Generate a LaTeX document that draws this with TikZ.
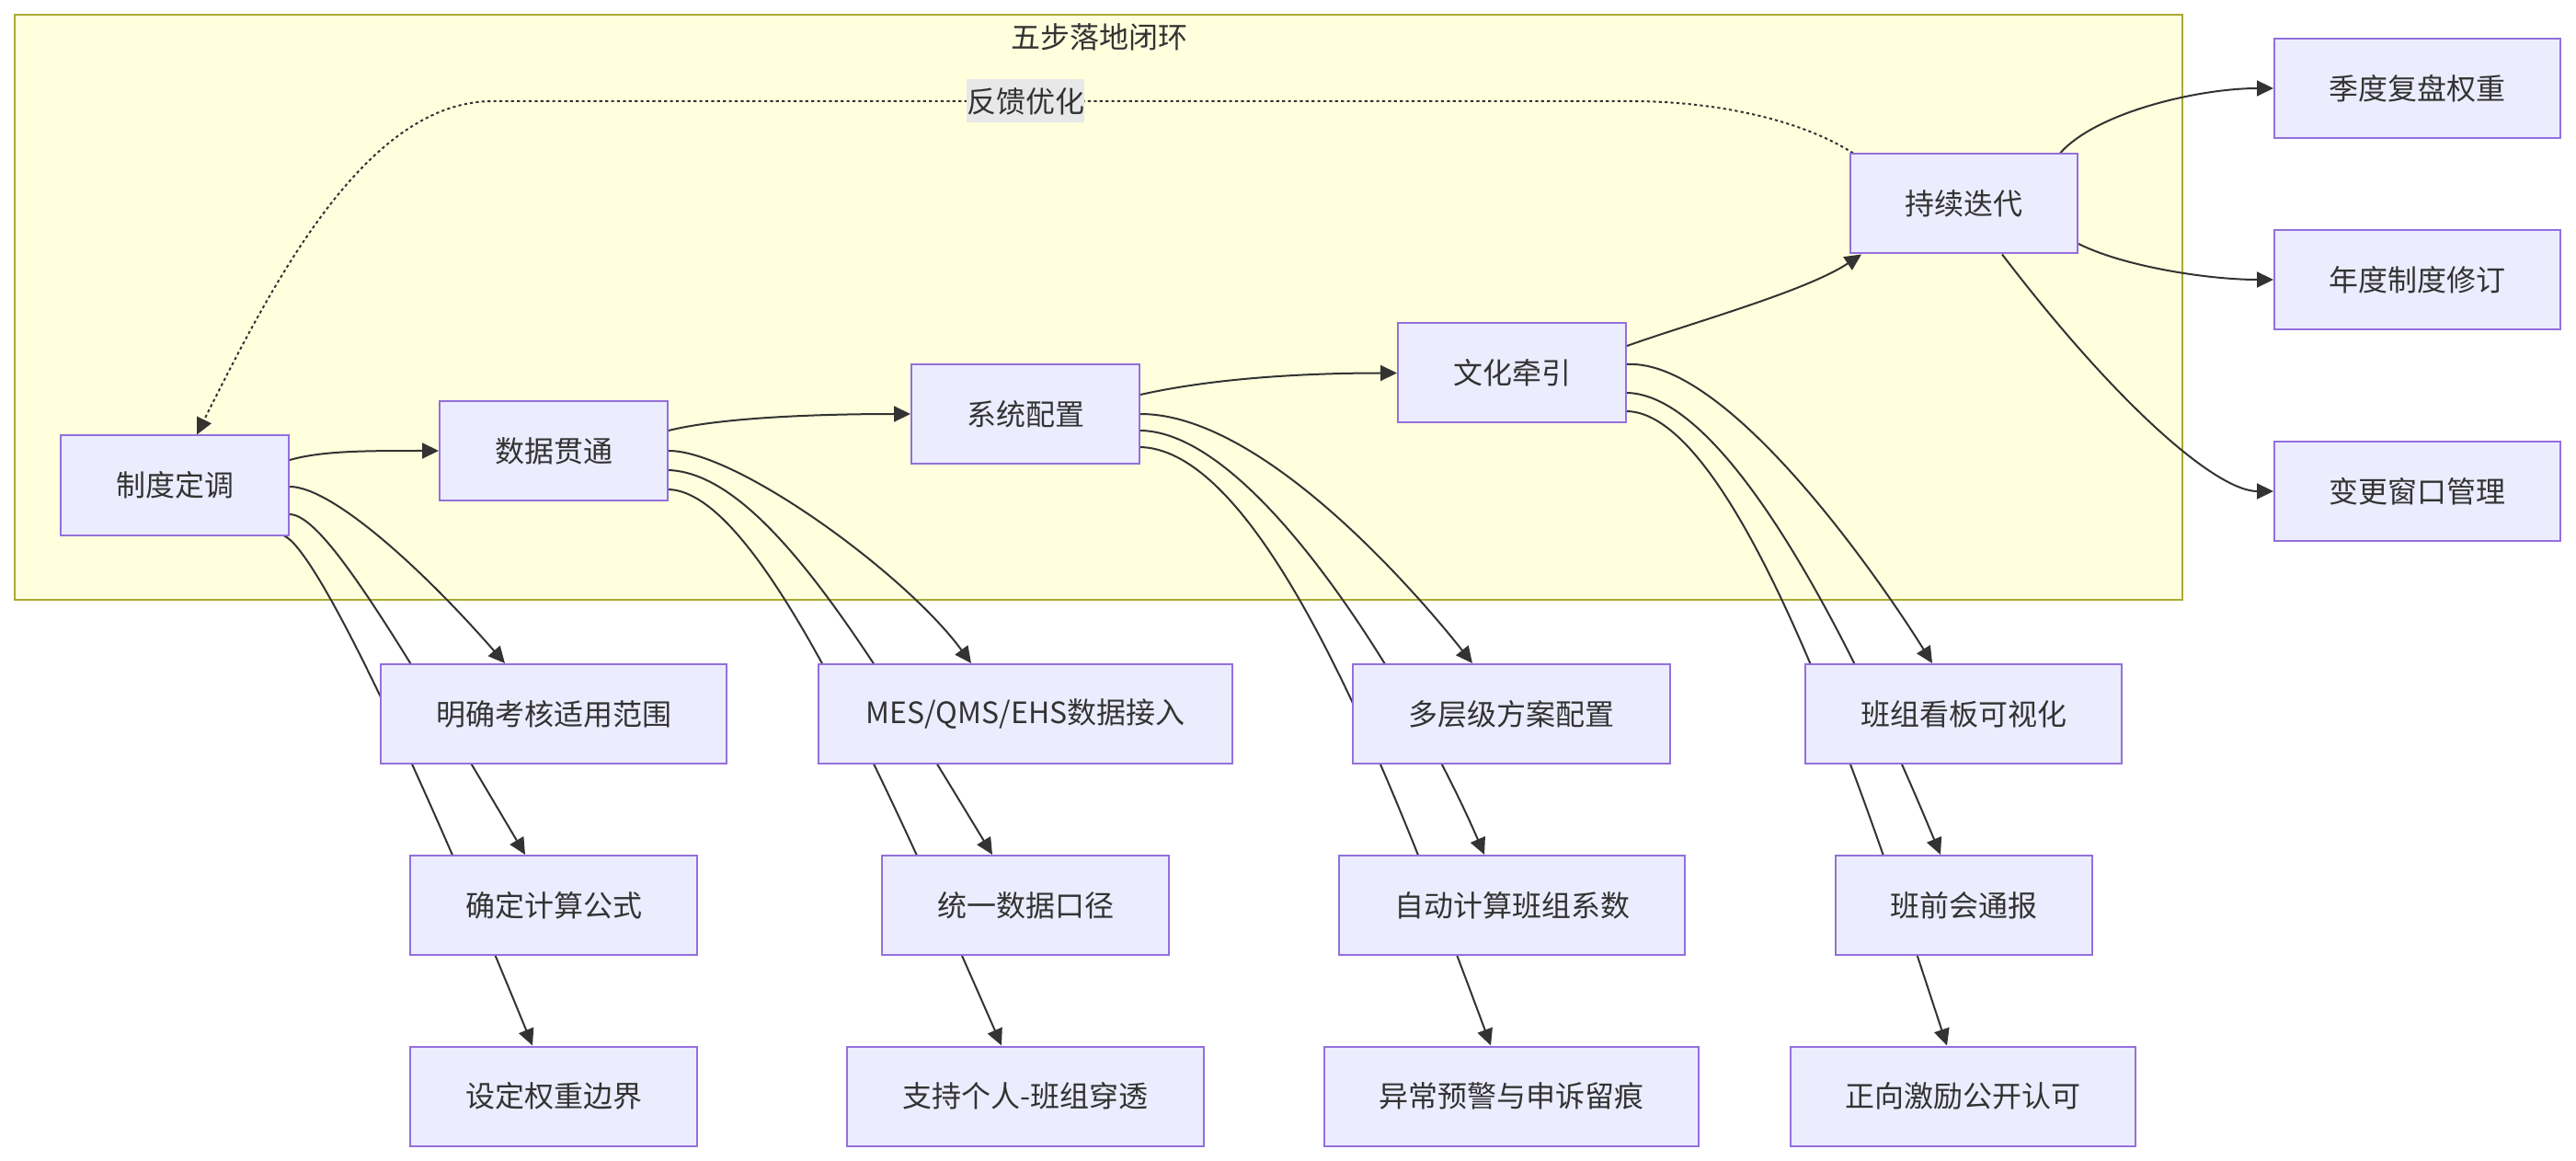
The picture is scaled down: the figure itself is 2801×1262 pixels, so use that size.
\documentclass[tikz,border=0pt]{standalone}
\usepackage{fontspec}
\setmainfont{Noto Sans CJK SC}
\usetikzlibrary{arrows.meta,calc}
\definecolor{nodefill}{HTML}{ECECFF}
\definecolor{nodestroke}{HTML}{9370DB}
\definecolor{clfill}{HTML}{FFFFDE}
\definecolor{clstroke}{HTML}{AAAA33}
\definecolor{edgec}{HTML}{333333}
\definecolor{txtc}{HTML}{333333}
\definecolor{lblbg}{HTML}{E8E8E8}
\pgfdeclarelayer{bg}
\pgfdeclarelayer{edges}
\pgfsetlayers{bg,edges,main}
\begin{document}
\begin{tikzpicture}[x=0.5pt,y=-0.5pt,
  box/.style={draw=nodestroke, fill=nodefill, line width=1pt, minimum height=54pt, inner sep=0pt, text=txtc, font=\fontsize{16pt}{19pt}\selectfont},
  edge/.style={draw=edgec, line width=1pt, -{Triangle[length=9pt,width=8.5pt]}},
  fbedge/.style={draw=edgec, line width=1pt, dash pattern=on 1.6pt off 1.6pt, -{Triangle[length=9pt,width=8.5pt]}},
  lbl/.style={fill=lblbg, inner sep=0pt, minimum width=64pt, minimum height=23.5pt, text=txtc, font=\fontsize{16pt}{19pt}\selectfont},
  cltitle/.style={text=txtc, font=\fontsize{16pt}{19pt}\selectfont, inner sep=0pt}
]
\useasboundingbox (0,0) rectangle (2801,1262);
\begin{pgfonlayer}{bg}
\fill[white] (0,0) rectangle (2801,1262);
\draw[draw=clstroke, fill=clfill, line width=1pt] (16,16) rectangle (2373,652);
\end{pgfonlayer}
\node[cltitle] (title) at (1195,40) {五步落地闭环};

% main chain
\node[box, minimum width=124pt] (n1) at (190,527.5) {制度定调};
\node[box, minimum width=124pt] (n2) at (602,490) {数据贯通};
\node[box, minimum width=124pt] (n3) at (1115,450) {系统配置};
\node[box, minimum width=124pt] (n4) at (1644,405.5) {文化牵引};
\node[box, minimum width=123.5pt] (n5) at (2135.5,221.5) {持续迭代};

% right side
\node[box, minimum width=155.5pt] (q1) at (2628.5,96) {季度复盘权重};
\node[box, minimum width=155.5pt] (q2) at (2628.5,304) {年度制度修订};
\node[box, minimum width=155.5pt] (q3) at (2628.5,534) {变更窗口管理};

% column a
\node[box, minimum width=188pt] (a1) at (602,776) {明确考核适用范围};
\node[box, minimum width=156pt] (a2) at (602,984) {确定计算公式};
\node[box, minimum width=156pt] (a3) at (602,1191.5) {设定权重边界};
% column b
\node[box, minimum width=225pt] (b1) at (1115,776) {MES/QMS/EHS数据接入};
\node[box, minimum width=156pt] (b2) at (1115,984) {统一数据口径};
\node[box, minimum width=194pt] (b3) at (1115,1191.5) {支持个人-班组穿透};
% column c
\node[box, minimum width=172.5pt] (c1) at (1643.5,776) {多层级方案配置};
\node[box, minimum width=188pt] (c2) at (1644,984) {自动计算班组系数};
\node[box, minimum width=203.5pt] (c3) at (1643.5,1191.5) {异常预警与申诉留痕};
% column d
\node[box, minimum width=172pt] (d1) at (2135,776) {班组看板可视化};
\node[box, minimum width=139.5pt] (d2) at (2135.5,984) {班前会通报};
\node[box, minimum width=187.5pt] (d3) at (2134.5,1191.5) {正向激励公开认可};

\coordinate (fbR) at (1775,110);
\coordinate (fbL) at (536,110);

\begin{pgfonlayer}{edges}
% main chain
\draw[edge] ($(n1.east)+(0,-27.5)$) .. controls +(35,-10) and +(-80,0) .. (n2.west);
\draw[edge] ($(n2.east)+(0,-22)$) .. controls +(60,-15) and +(-90,0) .. (n3.west);
\draw[edge] ($(n3.east)+(0,-21)$) .. controls +(80,-18) and +(-100,0) .. (n4.west);
\draw[edge] ($(n4.east)+(0,-29.5)$) .. controls +(70,-25) and +(-60,40) .. ($(n5.south west)+(13,0)$);
% outputs of n5
\draw[edge] ($(n5.north east)+(-20,0)$) .. controls +(40,-45) and +(-80,0) .. (q1.west);
\draw[edge] ($(n5.east)+(0,43.5)$) .. controls +(50,25) and +(-70,0) .. (q2.west);
\draw[edge] ($(n5.south)+(41.5,0)$) .. controls +(130,170) and +(-60,0) .. (q3.west);
% feedback
\draw[fbedge] ($(n5.north west)+(4,0)$) .. controls (1950,125) and (1850,110) .. (fbR) -- (fbL) .. controls (400,110) and (300,300) .. ($(n1.north)+(24,0)$);
% fan n1
\draw[edge] ($(n1.east)+(0,1.5)$) .. controls +(46,0) and +(-89,-102) .. ($(a1.north)+(-53,0)$);
\draw[edge] ($(n1.east)+(0,31.5)$) .. controls +(36,1) and +(-148,-250) .. ($(a2.north)+(-31,0)$);
\draw[edge] ($(n1.south east)+(-6,0)$) .. controls +(32,13) and +(-138,-337) .. ($(a3.north)+(-23,0)$);
% fan n2
\draw[edge] (n2.east) .. controls +(74,0) and +(-71,-97) .. ($(b1.north)+(-59,0)$);
\draw[edge] ($(n2.east)+(0,21)$) .. controls +(104,4) and +(-134,-220) .. ($(b2.north)+(-36,0)$);
\draw[edge] ($(n2.east)+(0,42)$) .. controls +(94,3) and +(-139,-317) .. ($(b3.north)+(-26,0)$);
% fan n3
\draw[edge] (n3.east) .. controls +(141,0) and +(-41,-52) .. ($(c1.north)+(-42.5,0)$);
\draw[edge] ($(n3.east)+(0,18)$) .. controls +(131,2) and +(-69,-160) .. ($(c2.north)+(-30,0)$);
\draw[edge] ($(n3.east)+(0,36)$) .. controls +(141,4) and +(-96,-257) .. ($(c3.north)+(-22.5,0)$);
% fan n4
\draw[edge] ($(n4.east)+(0,-9.5)$) .. controls +(112,-6) and +(-51,-82) .. ($(d1.north)+(-34,0)$);
\draw[edge] ($(n4.east)+(0,21.5)$) .. controls +(132,3) and +(-46,-110) .. ($(d2.north)+(-25.5,0)$);
\draw[edge] ($(n4.east)+(0,41.5)$) .. controls +(132,3) and +(-59,-177) .. ($(d3.north)+(-17.5,0)$);
\end{pgfonlayer}

\node[lbl] (fl) at (1115,110) {反馈优化};
\end{tikzpicture}
\end{document}
